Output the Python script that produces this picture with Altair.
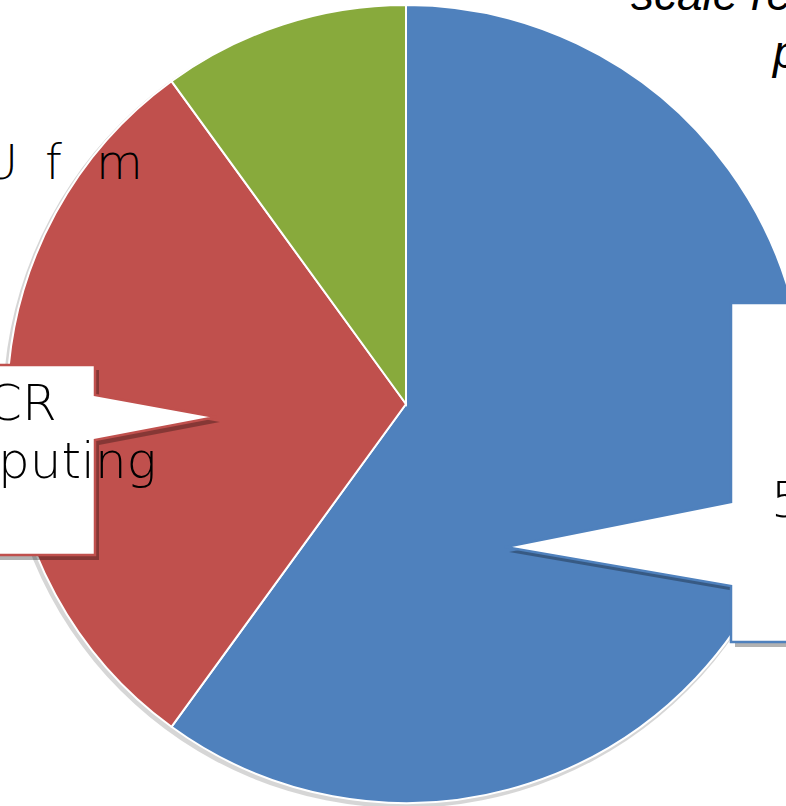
import altair as alt
import pandas as pd

# ---- pie data ----
categories = ["Blue", "Red", "Green"]
values = [60, 30, 10]
colors = ["#4F81BD", "#C0504D", "#88AA3C"]

pie_df = pd.DataFrame({"category": categories, "value": values, "order": [0, 1, 2]})

# ---- callout shapes (annotation outlines) ----
red_callout = [(-10, 365), (95, 365), (95, 395), (216, 417), (95, 440), (95, 555), (-10, 555), (-10, 365)]
blue_callout = [(731, 303), (800, 303), (800, 642), (731, 642), (731, 586), (505, 547), (731, 502), (731, 303)]

# ---- texts ----
callout_texts = ["CR", "puting", "5"]
callout_x = [-13, -2, 771]
callout_y = [420, 478, 517]

top_texts = ["scale re", "p"]
top_x = [631, 773]
top_y = [10, 68]

side_letters = ["U", "f", "m"]
side_x = [-17, 45, 96]
side_y = [179, 179, 179]

W, H = 786, 806
LIGHT = "DejaVu Sans ExtraLight, DejaVu Sans"


def feature(pts, dx=0, dy=0):
    return {
        "type": "Feature",
        "properties": {},
        "geometry": {"type": "Polygon", "coordinates": [[[x + dx, y + dy] for x, y in pts]]},
    }


shadow = pd.DataFrame({"o": [0]})

pie_shadow = alt.Chart(shadow).mark_arc(
    outerRadius=401, color="#bbbbbb", opacity=0.6
).encode(theta=alt.value(6.2832), x=alt.value(404), y=alt.value(407))

pie = alt.Chart(pie_df).mark_arc(outerRadius=399, stroke="white", strokeWidth=2).encode(
    theta=alt.Theta("value:Q", stack=True),
    color=alt.Color("category:N", scale=alt.Scale(domain=categories, range=colors), legend=None),
    order=alt.Order("order:Q"),
    x=alt.value(406),
    y=alt.value(404),
)


def callout(pts, stroke):
    sh = alt.Chart(alt.Data(values=[feature(pts, 4, 5)])).mark_geoshape(
        fill="#000000", opacity=0.3, strokeWidth=0
    ).project(type="identity", scale=1, translate=[0, 0])
    box = alt.Chart(alt.Data(values=[feature(pts)])).mark_geoshape(
        fill="white", stroke=stroke, strokeWidth=2.5
    ).project(type="identity", scale=1, translate=[0, 0])
    return [sh, box]


def texts(labels, xs, ys, **kw):
    df = pd.DataFrame({"t": labels, "x": xs, "y": ys})
    return alt.Chart(df).mark_text(align="left", baseline="alphabetic", **kw).encode(
        x=alt.X("x:Q", scale=alt.Scale(domain=[0, W], range=[0, W]), axis=None),
        y=alt.Y("y:Q", scale=alt.Scale(domain=[0, H], range=[0, H]), axis=None),
        text="t:N",
    )


layers = [pie_shadow, pie]
layers += callout(red_callout, "#C0504D")
layers += callout(blue_callout, "#4F81BD")
layers += [
    texts(callout_texts, callout_x, callout_y, font=LIGHT, fontSize=50, fontWeight=200, color="black"),
    texts(top_texts, top_x, top_y, font="Liberation Sans", fontSize=46, fontStyle="italic", color="black"),
    texts(side_letters, side_x, side_y, font=LIGHT, fontSize=48, fontWeight=200, color="black"),
]

chart = alt.layer(*layers).resolve_scale(x="shared", y="shared").properties(
    width=W, height=H, padding=0, background="white",
    autosize=alt.AutoSizeParams(type="none"),
).configure_view(stroke=None, strokeWidth=0)

chart.save("out.html", embed_options={"renderer": "svg", "actions": False})
